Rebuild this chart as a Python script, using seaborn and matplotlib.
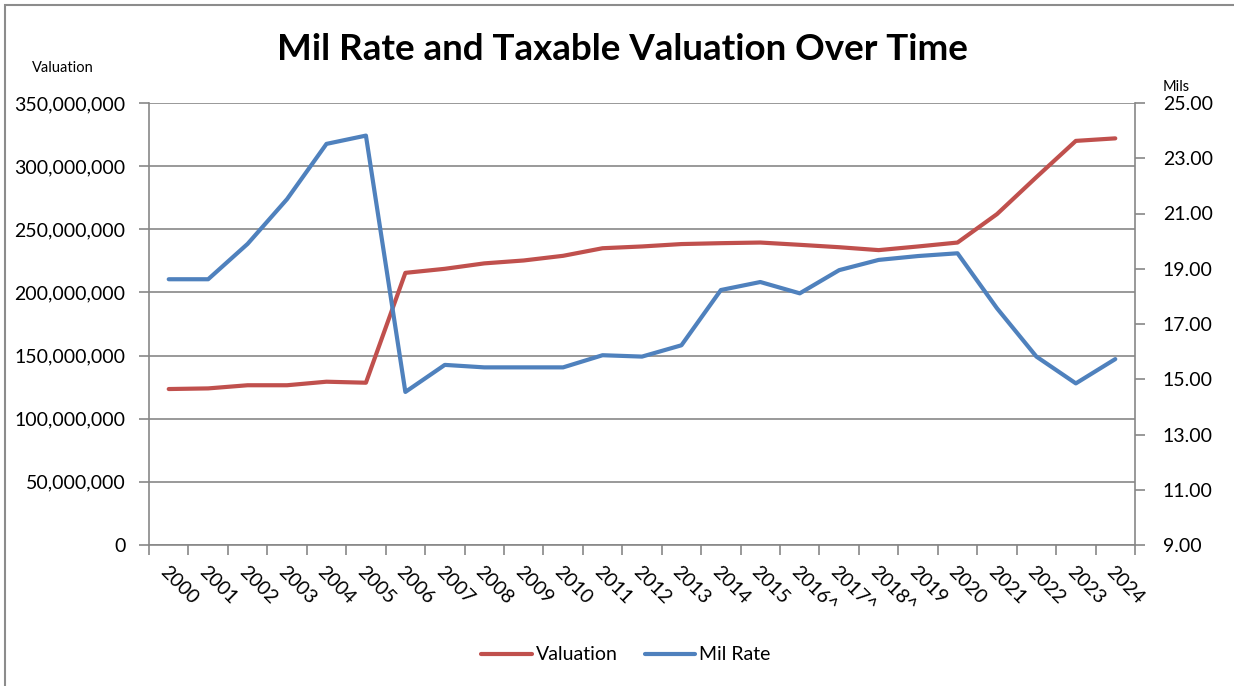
import matplotlib
matplotlib.use("Agg")
import matplotlib.pyplot as plt
import matplotlib.ticker as mticker
import seaborn as sns
import pandas as pd
import numpy as np

years = ["2000", "2001", "2002", "2003", "2004", "2005", "2006", "2007", "2008", "2009",
         "2010", "2011", "2012", "2013", "2014", "2015", "2016^", "2017^", "2018^", "2019",
         "2020", "2021", "2022", "2023", "2024"]
valuation = [123.5e6, 124.0e6, 126.5e6, 126.5e6, 129.3e6, 128.5e6, 215.5e6, 218.7e6, 223.0e6, 225.3e6,
             229.0e6, 235.0e6, 236.4e6, 238.3e6, 239.0e6, 239.5e6, 237.7e6, 235.8e6, 233.5e6, 236.4e6,
             239.5e6, 262.0e6, 291.3e6, 320.0e6, 322.0e6]
mil_rate = [18.62, 18.62, 19.90, 21.52, 23.52, 23.82, 14.54, 15.52, 15.43, 15.43,
            15.43, 15.87, 15.82, 16.23, 18.23, 18.52, 18.11, 18.95, 19.32, 19.46,
            19.56, 17.57, 15.82, 14.85, 15.73]

df = pd.DataFrame({"year": years, "pos": np.arange(len(years)),
                   "Valuation": valuation, "Mil Rate": mil_rate})

sns.set_theme(style="white")
plt.rcParams["font.family"] = ["Lato", "DejaVu Sans"]
plt.rcParams["text.color"] = "black"
plt.rcParams["xtick.labelcolor"] = "black"
plt.rcParams["ytick.labelcolor"] = "black"

RED = "#C0504D"
BLUE = "#4F81BD"
GRID = "#878787"

fig = plt.figure(figsize=(12.34, 6.86), dpi=100)
ax = fig.add_axes([149/1234, 1-545/686, (1135-149)/1234, (545-103)/686])
ax2 = ax.twinx()

sns.lineplot(data=df, x="pos", y="Valuation", ax=ax, color=RED, linewidth=3.0,
             label="Valuation", legend=False, solid_capstyle="round")
sns.lineplot(data=df, x="pos", y="Mil Rate", ax=ax2, color=BLUE, linewidth=3.0,
             label="Mil Rate", legend=False, solid_capstyle="round")

n = len(years)
ax.set_xlim(-0.5, n - 0.5)
ax.set_ylim(0, 350e6)
ax2.set_ylim(9, 25)
ax.set_yticks(np.arange(0, 350e6 + 1, 50e6))
ax2.set_yticks(np.arange(9, 25.01, 2))
ax.yaxis.set_major_formatter(mticker.FuncFormatter(lambda v, p: f"{int(round(v)):,}"))
ax2.yaxis.set_major_formatter(mticker.FuncFormatter(lambda v, p: f"{v:.2f}"))

ax.set_xticks(np.arange(-0.5, n, 1.0))
ax.set_xticklabels([])
ax.set_xticks(np.arange(n), minor=True)
ax.set_xticklabels(years, minor=True, rotation=-45, ha="left", va="top",
                   rotation_mode="anchor", fontsize=14, color="black")
ax.tick_params(axis="x", which="major", length=7, width=1.2, color=GRID, direction="out", bottom=True)
ax.tick_params(axis="x", which="minor", length=0, pad=13, bottom=True)

ax.grid(axis="y", color=GRID, linewidth=1.2)
ax.set_axisbelow(True)
ax.tick_params(axis="y", length=7, width=1.2, color=GRID, direction="out", left=True,
               labelsize=14, pad=10, labelcolor="black")
ax2.tick_params(axis="y", length=7, width=1.2, color=GRID, direction="out", right=True,
                labelsize=14, pad=13, labelcolor="black")

for a in (ax, ax2):
    a.set_xlabel("")
    a.set_ylabel("")
    a.spines["top"].set_visible(False)
    for s in ("left", "right", "bottom"):
        a.spines[s].set_color(GRID)
        a.spines[s].set_linewidth(1.2)
ax.spines["right"].set_visible(False)
ax2.spines["left"].set_visible(False)
ax2.spines["bottom"].set_visible(False)

fig.text(622/1234, 1-50/686, "Mil Rate and Taxable Valuation Over Time",
         ha="center", va="center", fontsize=26.5, fontweight="bold", color="black")
fig.text(32/1234, 1-68/686, "Valuation", ha="left", va="center", fontsize=10.5, color="black")
fig.text(1163/1234, 1-87/686, "Mils", ha="left", va="center", fontsize=10.5, color="black")

h1, l1 = ax.get_legend_handles_labels()
h2, l2 = ax2.get_legend_handles_labels()
fig.legend(h1 + h2, l1 + l2, loc="center", bbox_to_anchor=(626/1234, 1-655/686),
           ncol=2, frameon=False, fontsize=14, handlelength=2.6, handletextpad=0.2,
           columnspacing=1.4, labelcolor="black")

fig.patches.append(plt.Rectangle((5/1234, -0.1), 1.2, 1.1 - 5/686,
                                 transform=fig.transFigure, fill=False,
                                 edgecolor="#8c8c8c", linewidth=1.5))

fig.savefig("out.png", dpi=100, facecolor="white")
